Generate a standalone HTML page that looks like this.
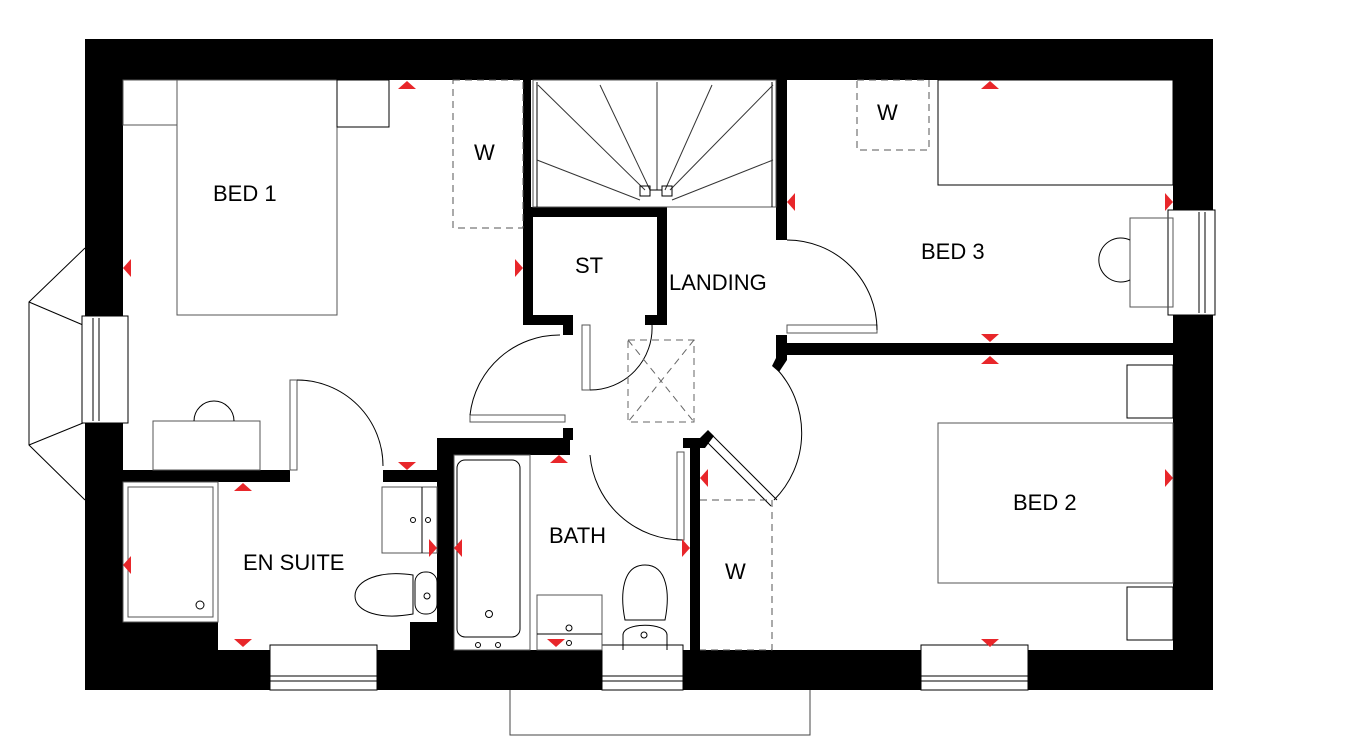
<!DOCTYPE html>
<html><head><meta charset="utf-8"><style>
html,body{margin:0;padding:0;background:#fff;}
svg{display:block;}
text{font-family:"Liberation Sans",sans-serif;font-size:22px;fill:#000;}
</style></head><body>
<svg width="1346" height="748" viewBox="0 0 1346 748" xmlns="http://www.w3.org/2000/svg">
<g fill="#000">
<!-- outer walls -->
<rect x="85" y="39" width="1128" height="41"/>
<rect x="85" y="39" width="38" height="279"/>
<rect x="85" y="420" width="38" height="270"/>
<rect x="1173" y="39" width="40" height="171"/>
<rect x="1173" y="315" width="40" height="375"/>
<rect x="85" y="650" width="1128" height="40"/>
<rect x="85" y="622" width="133" height="30"/>
<rect x="410" y="622" width="27" height="30"/>
<!-- interior walls -->
<rect x="523" y="80" width="8" height="135"/>
<path d="M523 207H667V325H645V315H657V217H533V315H563V325H523Z"/>
<rect x="563" y="315" width="10" height="20"/>
<rect x="776" y="80" width="11" height="160"/>
<rect x="787" y="343" width="386" height="12"/>
<path d="M776 335H787V360L779 372L772 366L776 358Z"/>
<rect x="437" y="438" width="133" height="17"/>
<rect x="563" y="428" width="10" height="12"/>
<rect x="437" y="438" width="17" height="212"/>
<rect x="690" y="440" width="10" height="210"/>
<path d="M683 438H700L708 430L714 436L705 448H683Z"/>
<rect x="123" y="470" width="167" height="12"/>
<rect x="383" y="470" width="54" height="12"/>
</g>
<g fill="none" stroke="#000" stroke-width="1">
<!-- bay window -->
<path d="M85 248L29 302V445L85 500M29 302L83 325M29 445L83 423"/>
<rect x="82" y="316" width="46" height="107" fill="#fff"/>
<line x1="93" y1="318" x2="93" y2="421"/><line x1="99" y1="318" x2="99" y2="421"/>
<!-- right window -->
<rect x="1168" y="210" width="47" height="105" fill="#fff"/>
<line x1="1199" y1="212" x2="1199" y2="313"/><line x1="1205" y1="212" x2="1205" y2="313"/>
<!-- bottom windows -->
<rect x="270" y="645" width="107" height="45" fill="#fff"/><line x1="270" y1="676" x2="377" y2="676"/><line x1="270" y1="681" x2="377" y2="681"/>
<rect x="602" y="645" width="81" height="45" fill="#fff"/><line x1="602" y1="676" x2="683" y2="676"/><line x1="602" y1="681" x2="683" y2="681"/>
<rect x="921" y="645" width="107" height="45" fill="#fff"/><line x1="921" y1="676" x2="1028" y2="676"/><line x1="921" y1="681" x2="1028" y2="681"/>
<path d="M510 690V735H810V690" stroke="#444"/>
<!-- bed1 -->
<rect x="177" y="80" width="160" height="235" stroke="#555"/>
<rect x="123" y="80" width="54" height="45" stroke="#555"/>
<rect x="337" y="80" width="52" height="47"/>
<rect x="153" y="421" width="107" height="49" stroke="#555"/>
<path d="M194 421A20 20 0 0 1 234 421"/>
<rect x="453" y="80" width="70" height="148" stroke="#555" stroke-dasharray="7,5"/>
<!-- bed1 door -->
<rect x="290" y="380" width="7" height="90" stroke="#555"/>
<path d="M297 380A86 86 0 0 1 383 466"/>
<rect x="470" y="415" width="95" height="7" stroke="#555"/>
<path d="M470 415A90 90 0 0 1 560 335"/>
<!-- stairs -->
<rect x="533" y="80" width="243" height="127" stroke="#555"/>
<line x1="537" y1="82" x2="537" y2="207"/><line x1="772" y1="82" x2="772" y2="207"/>
<path d="M538 85L645 190M600 85L650 190M657 82V190M712 85L665 190M773 85L670 190M537 160L640 200M773 160L672 200" stroke="#333"/>
<rect x="640" y="186" width="10" height="10"/><rect x="662" y="186" width="10" height="10"/><line x1="650" y1="190" x2="662" y2="190"/>
<!-- ST door -->
<rect x="582" y="325" width="8" height="65" stroke="#555"/>
<path d="M590 390A62 62 0 0 0 652 325"/>
<!-- hatch -->
<rect x="628" y="340" width="66" height="82" stroke="#666" stroke-dasharray="7,5"/>
<path d="M628 340L694 422M694 340L628 422" stroke="#666" stroke-dasharray="7,5"/>
<!-- bed3 door -->
<rect x="787" y="325" width="90" height="8" stroke="#555"/>
<path d="M787 240A90 90 0 0 1 877 330"/>
<!-- bed3 -->
<rect x="857" y="80" width="72" height="70" stroke="#555" stroke-dasharray="7,5"/>
<rect x="938" y="80" width="235" height="105"/>
<rect x="1130" y="218" width="43" height="89" stroke="#555"/>
<path d="M1130 240A22 22 0 1 0 1130 280"/>
<!-- bed2 -->
<rect x="1127" y="365" width="46" height="53"/>
<rect x="938" y="423" width="235" height="160" stroke="#555"/>
<rect x="1127" y="587" width="46" height="53"/>
<path d="M711 434L777 500M705 440L771 506"/>
<path d="M774 500A95 95 0 0 0 776 368"/>
<path d="M700 500H772V650H700" stroke="#555" stroke-dasharray="7,5"/>
<!-- bath door -->
<rect x="677" y="452" width="7" height="88" stroke="#555"/>
<path d="M590 455A93 93 0 0 0 683 540"/>
<!-- ensuite -->
<rect x="123" y="482" width="95" height="140" stroke="#555"/>
<rect x="128" y="487" width="85" height="130" stroke="#555"/>
<circle cx="200" cy="605" r="4"/>
<rect x="382" y="487" width="55" height="66" stroke="#555"/><line x1="422" y1="487" x2="422" y2="553"/>
<circle cx="413" cy="520" r="2.5"/><circle cx="428" cy="520" r="2.5"/>
<path d="M413 575C380 570 355 580 355 596C355 612 380 620 413 614Z"/>
<rect x="415" y="572" width="22" height="42" rx="10"/>
<circle cx="427" cy="596" r="3"/>
<!-- bath -->
<rect x="454" y="455" width="76" height="195" stroke="#555"/>
<rect x="457" y="460" width="63" height="177" rx="8"/>
<circle cx="489" cy="614" r="3.5"/><circle cx="478" cy="645" r="2.5"/><circle cx="498" cy="645" r="2.5"/>
<rect x="537" y="595" width="65" height="55" stroke="#555"/><line x1="537" y1="634" x2="602" y2="634"/>
<circle cx="569" cy="628" r="3"/><circle cx="569" cy="643" r="2.5"/>
<path d="M625 620C620 595 622 565 645 565C668 565 670 595 665 620Z"/>
<path d="M623 650V635C623 622 667 622 667 635V650"/>
<circle cx="644" cy="635" r="3"/>
</g>
<g fill="#e8262a">
<path d="M398 89L407 81L416 89Z"/><path d="M981 89L990 81L999 89Z"/>
<path d="M123 268L131 259V277Z"/><path d="M523 268L515 259V277Z"/>
<path d="M787 202L795 193V211Z"/><path d="M1173 202L1165 193V211Z"/>
<path d="M981 334L990 342L999 334Z"/><path d="M981 364L990 356L999 364Z"/>
<path d="M234 491L243 483L252 491Z"/><path d="M398 462L407 470L416 462Z"/>
<path d="M123 565L131 556V574Z"/><path d="M234 639L243 647L252 639Z"/>
<path d="M437 548L429 539V557Z"/><path d="M454 548L462 539V557Z"/>
<path d="M550 463L559 455L568 463Z"/><path d="M547 639L556 647L565 639Z"/>
<path d="M690 548L682 539V557Z"/><path d="M700 478L708 469V487Z"/>
<path d="M1173 478L1165 469V487Z"/><path d="M981 639L990 647L999 639Z"/>
</g>
<text x="213" y="201">BED 1</text>
<text x="474" y="160">W</text>
<text x="575" y="273">ST</text>
<text x="669" y="290">LANDING</text>
<text x="921" y="259">BED 3</text>
<text x="877" y="120">W</text>
<text x="1013" y="510">BED 2</text>
<text x="243" y="570">EN SUITE</text>
<text x="549" y="543">BATH</text>
<text x="725" y="579">W</text>
</svg>
</body></html>
